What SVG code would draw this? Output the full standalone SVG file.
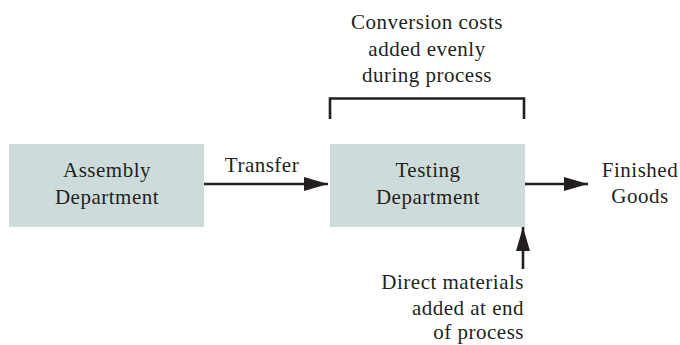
<svg xmlns="http://www.w3.org/2000/svg" width="680" height="345" viewBox="0 0 680 345">
<defs>
<style>
.box{fill:#cddcdb;}
.t{font-family:"Liberation Serif","Times New Roman",serif;font-size:21px;fill:#231f20;letter-spacing:0.5px;}
.c{text-anchor:middle;}
.r{text-anchor:end;}
.ln{stroke:#231f20;stroke-width:2.6;fill:none;}
</style>
<marker id="ah" viewBox="0 0 24 14" refX="24" refY="7" markerUnits="userSpaceOnUse" markerWidth="24" markerHeight="14" orient="auto">
<path d="M0,0 L24,7 L0,14 Z" fill="#231f20"/>
</marker>
</defs>
<rect width="680" height="345" fill="#ffffff"/>
<g id="assembly">
<rect class="box" x="9" y="144" width="195" height="83"/>
<text class="t c" x="107" y="177">Assembly</text>
<text class="t c" x="107" y="204">Department</text>
</g>
<g id="testing">
<rect class="box" x="330" y="144" width="195" height="83"/>
<text class="t c" x="428" y="177">Testing</text>
<text class="t c" x="428" y="204">Department</text>
</g>
<g id="conversion">
<path class="ln" d="M330,119 V98.5 H524 V119" stroke-width="3"/>
<text class="t c" x="427" y="29">Conversion costs</text>
<text class="t c" x="427" y="56">added evenly</text>
<text class="t c" x="427" y="82">during process</text>
</g>
<g id="finished">
<text class="t c" x="640" y="177">Finished</text>
<text class="t c" x="640" y="203">Goods</text>
</g>
<g id="materials">
<text class="t r" x="524" y="289">Direct materials</text>
<text class="t r" x="524" y="315">added at end</text>
<text class="t r" x="524" y="339">of process</text>
</g>
<g id="connectors">
<line class="ln" x1="204" y1="184" x2="328" y2="184" marker-end="url(#ah)"/>
<text class="t c" x="262" y="172">Transfer</text>
<line class="ln" x1="525" y1="184" x2="588" y2="184" marker-end="url(#ah)"/>
<line class="ln" x1="523" y1="269" x2="523" y2="227" marker-end="url(#ah)"/>
</g>
</svg>
